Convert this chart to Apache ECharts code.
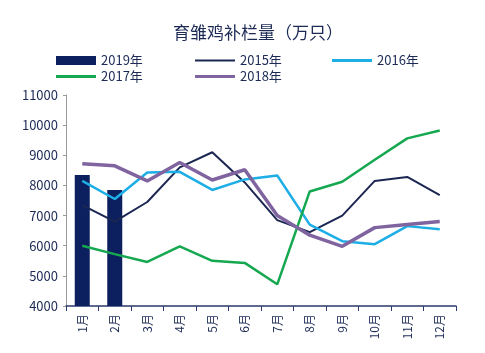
<!DOCTYPE html>
<html>
<head>
<meta charset="utf-8">
<script src="https://cdn.jsdelivr.net/npm/echarts@6/dist/echarts.min.js"></script>
<style>
  html, body { margin: 0; padding: 0; background: #fff; }
  #chart { width: 485px; height: 353px; }
</style>
</head>
<body>
<div id="chart"></div>
<script>
const months = ["1月", "2月", "3月", "4月", "5月", "6月", "7月", "8月", "9月", "10月", "11月", "12月"];
const y2019 = [8350, 7850];
const y2015 = [7350, 6800, 7450, 8600, 9100, 8100, 6850, 6450, 7000, 8150, 8280, 7680];
const y2016 = [8150, 7550, 8430, 8450, 7850, 8200, 8330, 6700, 6150, 6050, 6650, 6550];
const y2017 = [6000, 5720, 5460, 5980, 5500, 5430, 4720, 7800, 8120, 8850, 9560, 9820];
const y2018 = [8720, 8650, 8150, 8760, 8180, 8520, 7000, 6350, 5980, 6600, 6700, 6800];

const navy = "#1c2a55";
const fontFam = "'Century Gothic', 'Noto Sans CJK SC', sans-serif";

const chart = echarts.init(document.getElementById("chart"));

function lineSeries(name, data, color, width) {
  return {
    name: name,
    type: "line",
    data: data,
    symbol: "none",
    lineStyle: { color: color, width: width },
    itemStyle: { color: color }
  };
}

// thin line icons for the legend
const thinLine = "path://M0,0 H40 V2 H0 Z";
const thickLine = "path://M0,0 H40 V3 H0 Z";

const legendBase = {
  orient: "vertical",
  top: 49,
  itemWidth: 40,
  itemHeight: 9,
  itemGap: 3,
  symbolKeepAspect: true,
  textStyle: { fontSize: 13, color: navy, fontFamily: fontFam }
};

chart.setOption({
  animation: false,
  title: {
    text: "育雏鸡补栏量（万只）",
    left: 253,
    textAlign: "center",
    top: 19,
    textStyle: { fontSize: 17, fontWeight: "normal", color: navy, fontFamily: fontFam }
  },
  legend: [
    Object.assign({}, legendBase, {
      left: 51,
      data: [{ name: "2019年", icon: "rect" }, { name: "2017年", icon: thickLine }]
    }),
    Object.assign({}, legendBase, {
      left: 190,
      data: [{ name: "2015年", icon: thinLine }, { name: "2018年", icon: thickLine }]
    }),
    Object.assign({}, legendBase, {
      left: 327,
      data: [{ name: "2016年", icon: thickLine }]
    })
  ],
  grid: { left: 66, right: 29, top: 95, bottom: 47 },
  xAxis: {
    type: "category",
    data: months,
    boundaryGap: true,
    axisLine: { lineStyle: { color: "#2b3a6e", width: 1.5 } },
    axisTick: { show: true, length: 5, lineStyle: { color: "#2b3a6e" } },
    axisLabel: {
      rotate: 90,
      interval: 0,
      fontSize: 12,
      color: navy,
      fontFamily: fontFam,
      margin: 8
    }
  },
  yAxis: {
    type: "value",
    min: 4000,
    max: 11000,
    interval: 1000,
    axisLine: { show: true, lineStyle: { color: "#999" } },
    axisTick: { show: true, length: 3, lineStyle: { color: "#999" } },
    splitLine: { show: false },
    axisLabel: {
      fontSize: 13,
      color: navy,
      fontFamily: fontFam,
      margin: 8,
      formatter: v => String(v)
    }
  },
  series: [
    {
      name: "2019年",
      type: "bar",
      data: y2019,
      barWidth: 15,
      itemStyle: { color: "#0c1f5e" }
    },
    lineSeries("2015年", y2015, "#1b2752", 2),
    lineSeries("2016年", y2016, "#1eaee6", 2.5),
    lineSeries("2017年", y2017, "#16a851", 2.5),
    lineSeries("2018年", y2018, "#8064a0", 3.5)
  ]
});
</script>
</body>
</html>
